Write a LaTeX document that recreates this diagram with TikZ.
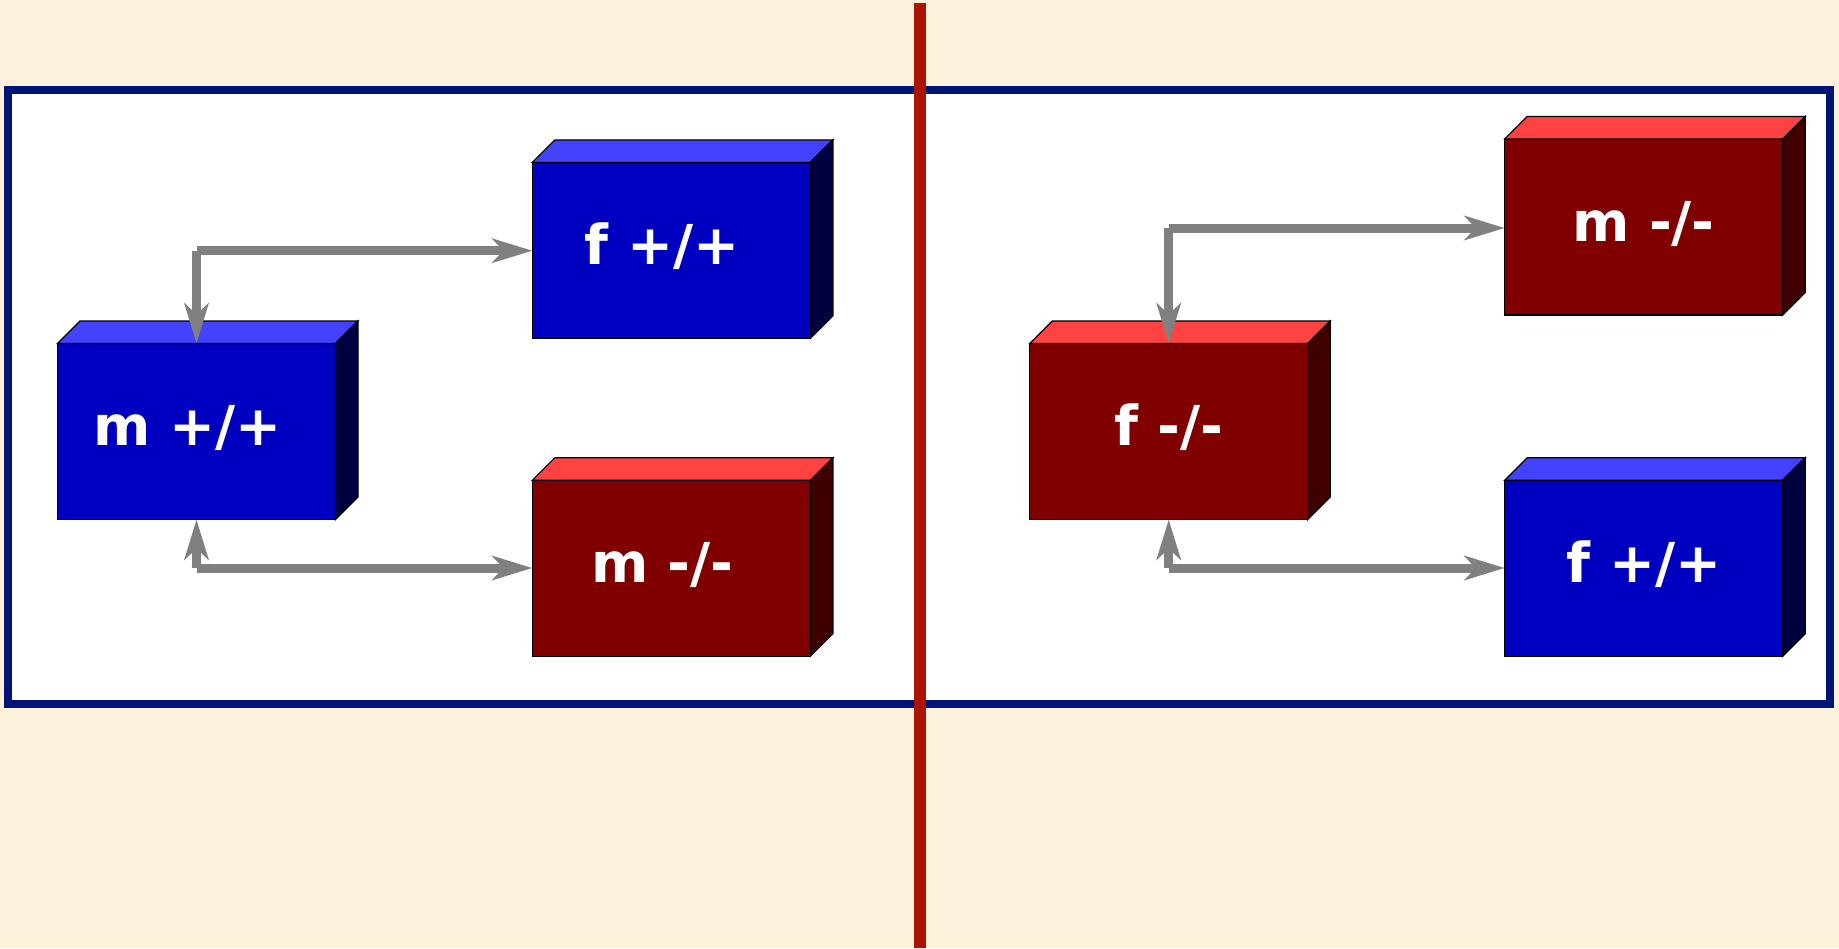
\documentclass[tikz,border=0pt]{standalone}
\usepackage{fontspec}
\newfontfamily\boxfont{DejaVu Sans}[BoldFont={DejaVu Sans Bold}]
\usetikzlibrary{arrows.meta,calc}
\definecolor{bgc}{RGB}{253,241,220}
\definecolor{bluefront}{RGB}{0,0,192}
\definecolor{bluetop}{RGB}{66,66,255}
\definecolor{blueside}{RGB}{0,0,64}
\definecolor{redfront}{RGB}{128,0,0}
\definecolor{redtop}{RGB}{255,66,66}
\definecolor{redside}{RGB}{64,0,0}
\definecolor{framec}{RGB}{0,20,120}
\definecolor{dividerc}{RGB}{170,20,0}
\definecolor{conngray}{RGB}{128,128,128}
\tikzset{
  front/.style={draw=black, line width=1.2pt, inner sep=0pt, outer sep=0pt,
    minimum width=278pt, minimum height=176pt},
  face/.style={draw=black, line width=1.2pt, line join=miter},
  lbl/.style={text=white, font=\boxfont\bfseries\fontsize{55}{60}\selectfont, anchor=base},
  conn/.style={draw=conngray, line width=9pt, line cap=butt,
    -{Stealth[length=40pt,width=24pt,inset=11pt]}},
}
\newcommand{\cube}[4]{% name, front, top, side
  \fill[#3] (#1.north west) -- ++(22.5,-22.5) -- ($(#1.north east)+(22.5,-22.5)$) -- (#1.north east) -- cycle;
  \draw[face] (#1.north west) -- ++(22.5,-22.5) -- ($(#1.north east)+(22.5,-22.5)$) -- (#1.north east) -- cycle;
  \fill[#4] (#1.north east) -- ++(22.5,-22.5) -- ($(#1.south east)+(22.5,-22.5)$) -- (#1.south east) -- cycle;
  \draw[face] (#1.north east) -- ++(22.5,-22.5) -- ($(#1.south east)+(22.5,-22.5)$) -- (#1.south east) -- cycle;
}
\begin{document}
\begin{tikzpicture}[x=1pt,y=-1pt]
\useasboundingbox (0,0) rectangle (1839,948);
\fill[bgc] (0,0) rectangle (1839,948);
% frame
\draw[framec, line width=8pt, fill=white] (8,90) rectangle (1830,704);
% boxes
\node[front, fill=bluefront] (A) at (196.5,431.5) {};
\node[front, fill=bluefront] (B) at (671.4,250.4) {};
\node[front, fill=redfront] (C) at (671.4,568.2) {};
\node[front, fill=redfront] (D) at (1168.7,431.5) {};
\node[front, fill=redfront] (E) at (1643.7,227) {};
\node[front, fill=bluefront] (F) at (1643.7,568.2) {};
\cube{A}{bluefront}{bluetop}{blueside}
\cube{B}{bluefront}{bluetop}{blueside}
\cube{C}{redfront}{redtop}{redside}
\cube{D}{redfront}{redtop}{redside}
\cube{E}{redfront}{redtop}{redside}
\cube{F}{bluefront}{bluetop}{blueside}
% labels
\node[lbl] (tA) at ($(A.center)+(-9,14)$) {m +/+};
\node[lbl] (tB) at ($(B.center)+(-9,14)$) {f +/+};
\node[lbl] (tC) at ($(C.center)+(-9,14)$) {m -/-};
\node[lbl] (tD) at ($(D.center)+(0,14)$) {f -/-};
\node[lbl] (tE) at ($(E.center)+(0,14)$) {m -/-};
\node[lbl] (tF) at ($(F.center)+(0,14)$) {f +/+};
% connectors
\coordinate (c1) at (196.5,250.7);
\coordinate (c2) at (196.5,568);
\coordinate (c3) at (1168.7,228);
\coordinate (c4) at (1168.7,568);
\draw[conn] (c1) -- (A.north);
\draw[conn] (c1) -- (c1 -| B.west);
\draw[conn] (c2) -- (A.south);
\draw[conn] (c2) -- (c2 -| C.west);
\draw[conn] (c3) -- (D.north);
\draw[conn] (c3) -- (c3 -| E.west);
\draw[conn] (c4) -- (D.south);
\draw[conn] (c4) -- (c4 -| F.west);
% divider
\fill[dividerc] (914,3) rectangle (926,948);
\end{tikzpicture}
\end{document}
